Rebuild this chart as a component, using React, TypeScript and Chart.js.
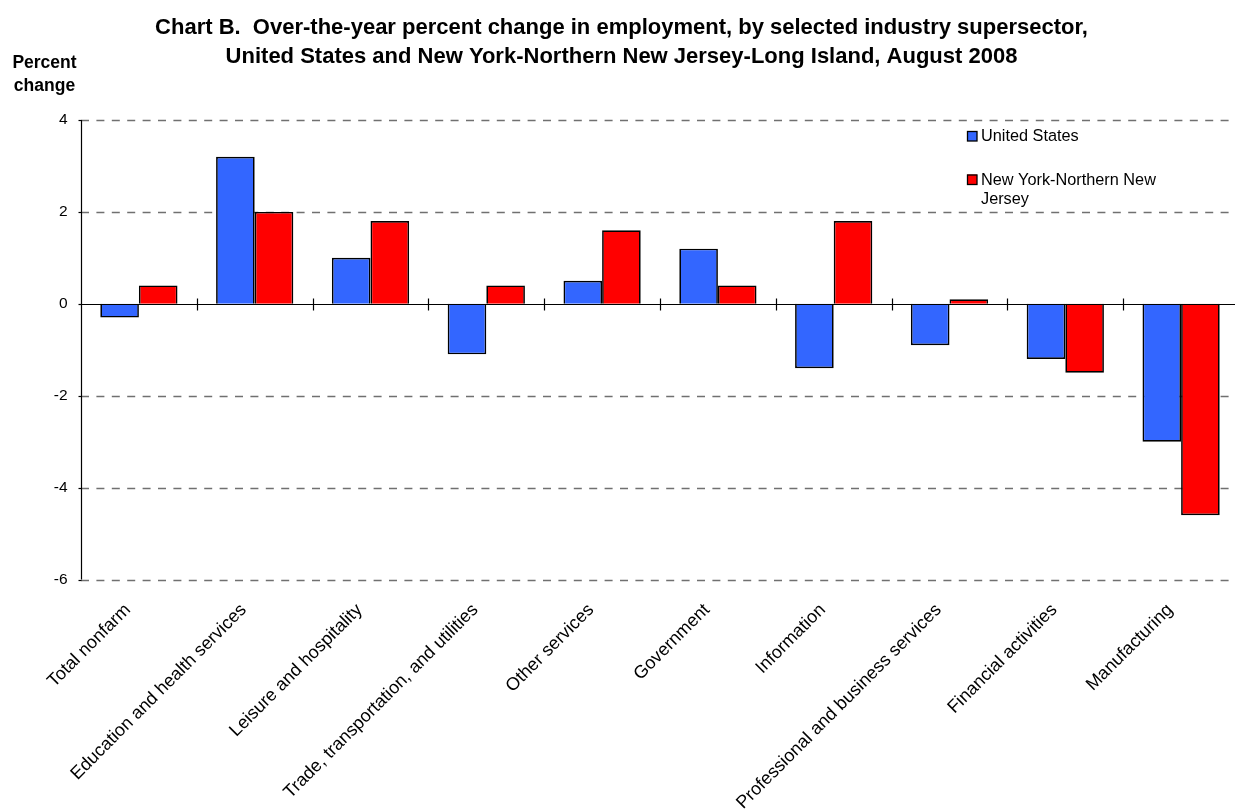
import React, { useEffect, useRef } from "react";
import { Chart, registerables } from "chart.js";

Chart.register(...registerables);

const categories = [
  "Total nonfarm",
  "Education and health services",
  "Leisure and hospitality",
  "Trade, transportation, and utilities",
  "Other services",
  "Government",
  "Information",
  "Professional and business services",
  "Financial activities",
  "Manufacturing",
];
const unitedStates = [-0.3, 3.2, 1.0, -1.1, 0.5, 1.2, -1.4, -0.9, -1.2, -3.0];
const newYorkNJ = [0.4, 2.0, 1.8, 0.4, 1.6, 0.4, 1.8, 0.1, -1.5, -4.6];
const seriesLabels = ["United States", "New York-Northern New Jersey"];
const yMin = -6;
const yMax = 4;
const yStep = 2;
const titleLines = [
  "Chart B.  Over-the-year percent change in employment, by selected industry supersector,",
  "United States and New York-Northern New Jersey-Long Island, August 2008",
];
const yTitleLines = ["Percent", "change"];

const FONT = "'Liberation Sans', Arial, Helvetica, sans-serif";
const W = 1245;
const H = 811;

const decorPlugin = {
  id: "decor",
  beforeDatasetsDraw(chart: any) {
    const { ctx, chartArea, scales } = chart;
    const y = scales.y;
    ctx.save();
    ctx.strokeStyle = "#707070";
    ctx.lineWidth = 1.3;
    ctx.setLineDash([8, 7.4]);
    y.ticks.forEach((t: any) => {
      if (t.value === 0) return;
      const py = Math.round(y.getPixelForValue(t.value)) + 0.5;
      ctx.beginPath();
      ctx.moveTo(chartArea.left, py);
      ctx.lineTo(chartArea.right, py);
      ctx.stroke();
    });
    ctx.restore();
  },
  afterDatasetsDraw(chart: any) {
    const { ctx, chartArea, scales } = chart;
    const x = scales.x;
    const y = scales.y;
    ctx.save();
    ctx.strokeStyle = "#000";
    ctx.lineWidth = 1.2;
    ctx.setLineDash([]);
    const zy = Math.round(y.getPixelForValue(0)) + 0.5;
    // zero line
    ctx.beginPath();
    ctx.moveTo(chartArea.left, zy);
    ctx.lineTo(chartArea.right, zy);
    ctx.stroke();
    // y axis line
    const ax = Math.round(chartArea.left) + 0.5;
    ctx.beginPath();
    ctx.moveTo(ax, chartArea.top);
    ctx.lineTo(ax, chartArea.bottom);
    ctx.stroke();
    // small y ticks
    y.ticks.forEach((t: any) => {
      const py = Math.round(y.getPixelForValue(t.value)) + 0.5;
      ctx.beginPath();
      ctx.moveTo(ax - 3, py);
      ctx.lineTo(ax, py);
      ctx.stroke();
    });
    // category boundary cross ticks
    for (let i = 1; i < categories.length; i++) {
      const px =
        Math.round((x.getPixelForValue(i - 1) + x.getPixelForValue(i)) / 2) + 0.5;
      ctx.beginPath();
      ctx.moveTo(px, zy - 6);
      ctx.lineTo(px, zy + 6);
      ctx.stroke();
    }
    ctx.restore();
  },
  afterDraw(chart: any) {
    const { ctx } = chart;
    ctx.save();
    ctx.fillStyle = "#000";
    // title
    ctx.font = `bold 22px ${FONT}`;
    ctx.textAlign = "center";
    ctx.textBaseline = "alphabetic";
    ctx.fillText(titleLines[0], 621.5, 33.5);
    ctx.fillText(titleLines[1], 621.5, 62.5);
    // y title
    ctx.font = `bold 17.5px ${FONT}`;
    ctx.fillText(yTitleLines[0], 44.5, 67.5);
    ctx.fillText(yTitleLines[1], 44.5, 91);
    // legend
    ctx.font = `16.3px ${FONT}`;
    ctx.textAlign = "left";
    ctx.textBaseline = "middle";
    const ys = [136, 179.5];
    chart.data.datasets.forEach((ds: any, i: number) => {
      const cy = ys[i];
      ctx.fillStyle = ds.backgroundColor;
      ctx.fillRect(967, cy - 5, 10, 10);
      ctx.strokeStyle = "#000";
      ctx.lineWidth = 1.3;
      ctx.strokeRect(967.5, cy - 4.5, 9.5, 9.5);
      ctx.fillStyle = "#000";
      const words = String(ds.label).split(" ");
      const lines: string[] = [];
      let cur = "";
      words.forEach((w) => {
        const test = cur ? cur + " " + w : w;
        if (ctx.measureText(test).width > 200 && cur) {
          lines.push(cur);
          cur = w;
        } else cur = test;
      });
      if (cur) lines.push(cur);
      lines.forEach((ln, k) => ctx.fillText(ln, 981, cy + 1 + k * 19));
    });
    ctx.restore();
  },
};

function ChartView() {
  const ref = useRef<HTMLCanvasElement | null>(null);
  useEffect(() => {
    if (!ref.current) return;
    const chart = new Chart(ref.current, {
      type: "bar",
      data: {
        labels: categories,
        datasets: [
          {
            label: seriesLabels[0],
            data: unitedStates,
            backgroundColor: "#3366FF",
            borderColor: "#000",
            borderWidth: 1.7,
            categoryPercentage: 0.667,
            barPercentage: 1.0,
          },
          {
            label: seriesLabels[1],
            data: newYorkNJ,
            backgroundColor: "#FF0000",
            borderColor: "#000",
            borderWidth: 1.7,
            categoryPercentage: 0.667,
            barPercentage: 1.0,
          },
        ],
      },
      options: {
        responsive: false,
        animation: false,
        devicePixelRatio: 1,
        layout: { padding: { top: 120, right: 6, left: 0, bottom: 0 } },
        plugins: {
          legend: { display: false },
          title: { display: false },
          tooltip: { enabled: false },
        },
        scales: {
          x: {
            grid: { display: false, drawTicks: false },
            border: { display: false },
            ticks: {
              autoSkip: false,
              maxRotation: 45,
              minRotation: 45,
              color: "#000",
              padding: 20,
              labelOffset: -11,
              font: { family: FONT, size: 18 },
            },
            afterFit: (s: any) => {
              s.height = H - 579.5;
            },
          },
          y: {
            min: yMin,
            max: yMax,
            grid: { display: false, drawTicks: false },
            border: { display: false },
            ticks: {
              stepSize: yStep,
              color: "#000",
              padding: 13.5,
              font: { family: FONT, size: 15.5 },
            },
            afterFit: (s: any) => {
              s.width = 81;
            },
          },
        },
      },
      plugins: [decorPlugin],
    } as any);
    return () => chart.destroy();
  }, []);
  return (
    <canvas
      ref={ref}
      width={W}
      height={H}
      style={{ position: "absolute", left: 0, top: 0, width: W, height: H }}
    />
  );
}

export default function App() {
  return (
    <div
      style={{
        position: "fixed",
        left: 0,
        top: 0,
        width: 1235,
        height: 811,
        overflow: "hidden",
        background: "#fff",
      }}
    >
      <ChartView />
    </div>
  );
}
